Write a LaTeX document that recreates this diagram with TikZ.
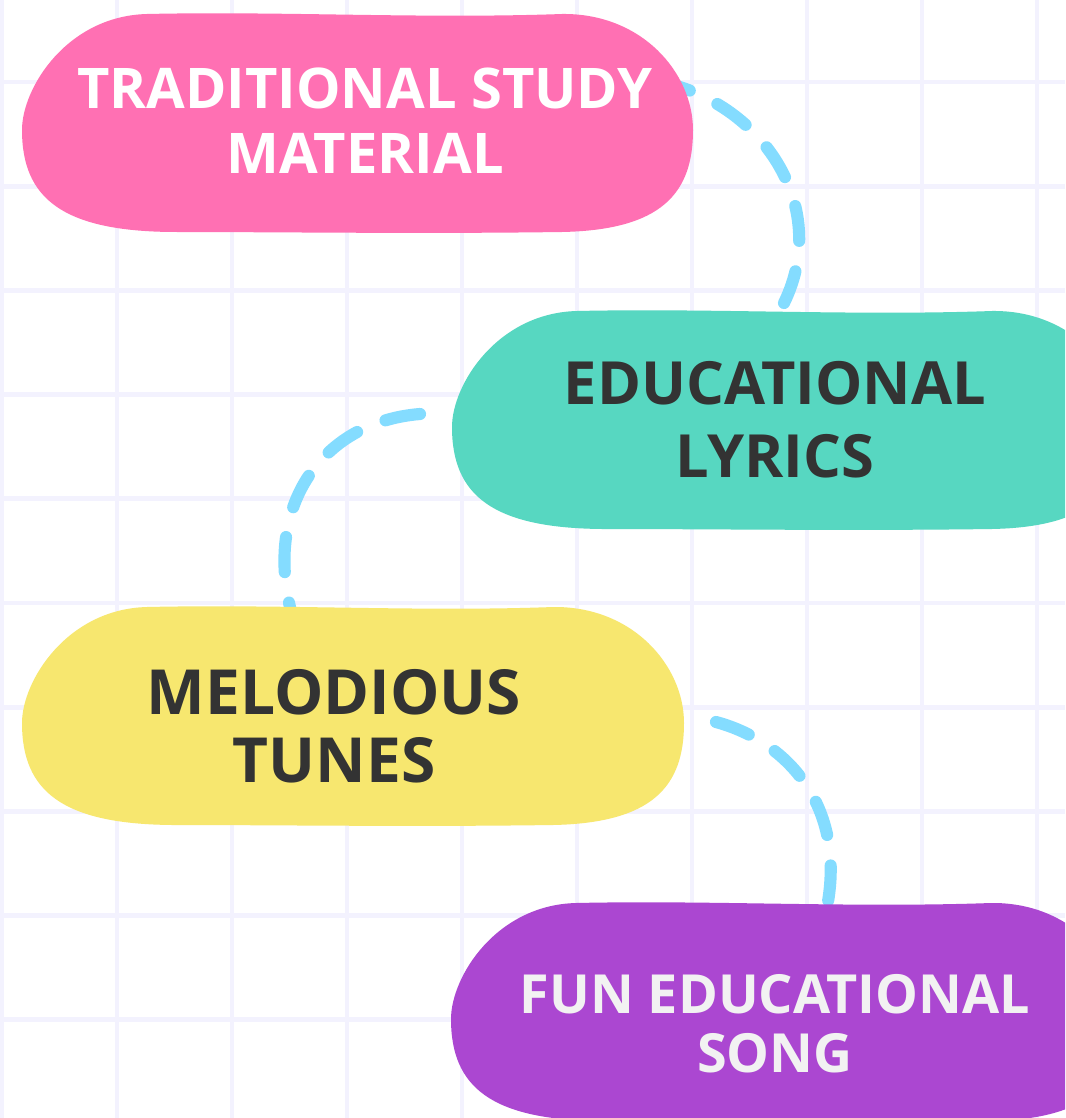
\documentclass[tikz,border=0pt]{standalone}
\usepackage{fontspec}
\setmainfont{Open Sans}
\usepackage{tikz}
\definecolor{gridc}{HTML}{F3F2FE}
\definecolor{sky}{HTML}{84DCFF}
\definecolor{pinkfill}{HTML}{FF70B3}
\definecolor{tealfill}{HTML}{57D7C1}
\definecolor{yellowfill}{HTML}{F7E76F}
\definecolor{purplefill}{HTML}{AB47D1}
\definecolor{dark}{HTML}{333333}
\definecolor{pale}{HTML}{F2F2F2}
\tikzset{
  gridline/.style={draw=gridc, line width=2.8pt},
  dashline/.style={draw=sky, line width=6.9pt, line cap=round, dash pattern=on 20pt off 17.5pt},
  lab/.style 2 args={font=\bfseries\fontsize{#1}{#2}\selectfont, align=center, inner sep=0pt},
  pics/blob/.style={code={
    \fill[pic actions] (125,1) .. controls (260,-2) and (400,6) .. ({#1-131},1)
      .. controls ({#1-51},0) and (#1,60) .. (#1,117)
      .. controls (#1,180) and ({#1-31},217) .. ({#1-131},219)
      .. controls ({#1-271},221) and (260,219) .. (150,219)
      .. controls (40,218) and (0,185) .. (0,117)
      .. controls (0,75) and (45,3) .. (125,1) -- cycle;
  }},
}
\begin{document}
\begin{tikzpicture}[x=0.02cm, y=-0.02cm]
  \useasboundingbox (0,0) rectangle (1065,1118);
  \clip (0,0) rectangle (1065,1118);
  \fill[white] (0,0) rectangle (1065,1118);
  \foreach \i in {0,...,9}
    \draw[gridline] ({2+115*\i},0) -- ({2+115*\i},1118);
  \foreach \j in {0,...,9}
    \draw[gridline] (0,{82+104.2*\j}) -- (1065,{82+104.2*\j});

  \coordinate (A1) at (656,81);
  \coordinate (A2) at (784,303);
  \coordinate (B1) at (420,414);
  \coordinate (B2) at (294,622);
  \coordinate (C1) at (716,722);
  \coordinate (C2) at (826,912);
  \draw[dashline] (A1) .. controls (760,100) and (832,205) .. (A2);
  \draw[dashline] (B1) .. controls (320,422) and (260,510) .. (B2);
  \draw[dashline] (C1) .. controls (790,742) and (848,810) .. (C2);

  \pic[fill=pinkfill] at (22,13) {blob=671};
  \pic[fill=tealfill] at (452,310) {blob=671};
  \pic[fill=yellowfill] at (22,606) {blob=662};
  \pic[fill=purplefill] at (451,902) {blob=671};

  \node[lab={31.9}{37}, text=white] (trad) at (365,120.5) {TRADITIONAL STUDY\\MATERIAL};
  \node[lab={33.9}{41.5}, text=dark] (lyrics) at (775,420) {EDUCATIONAL\\LYRICS};
  \node[lab={35.4}{38.7}, text=dark] (tunes) at (334,726) {MELODIOUS\\TUNES};
  \node[lab={30.7}{33.8}, text=pale] (song) at (775,1024) {FUN EDUCATIONAL\\SONG};
\end{tikzpicture}
\end{document}
